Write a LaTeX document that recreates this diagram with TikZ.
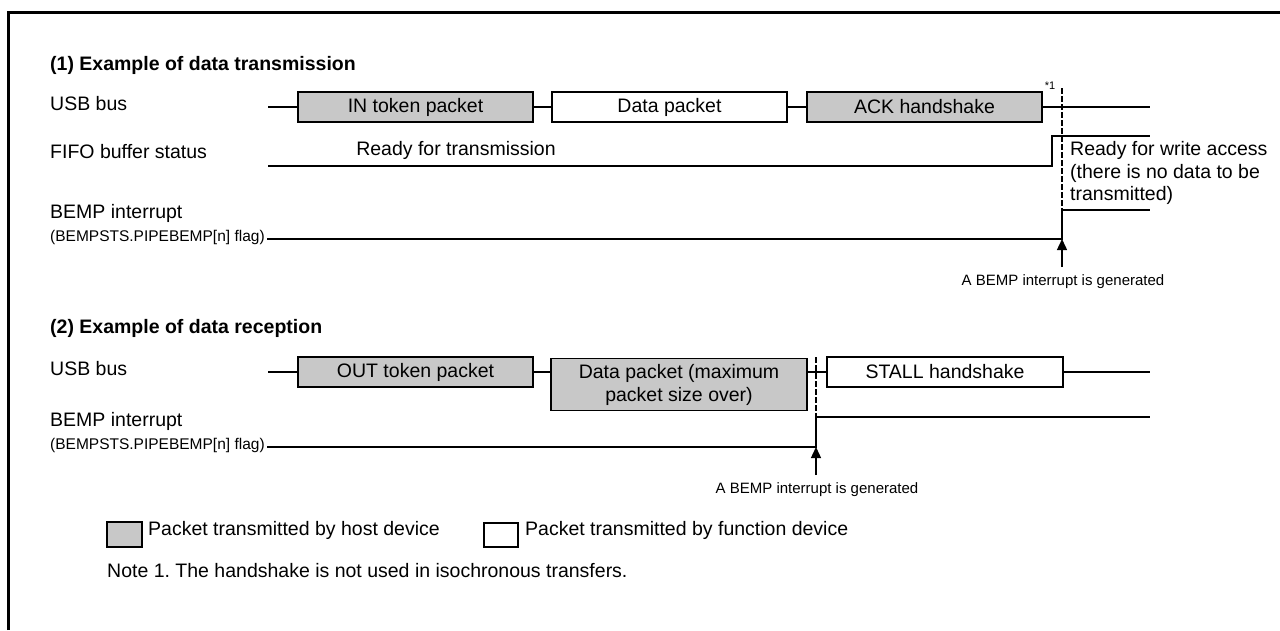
\documentclass[tikz,border=0pt]{standalone}
\usepackage{fontspec}
\setmainfont{Liberation Sans}
\usetikzlibrary{arrows.meta}
\definecolor{hostgray}{RGB}{200,200,200}
\frenchspacing
\begin{document}
\begin{tikzpicture}[x=1pt,y=-1pt,
  mainfont/.style={font=\fontsize{19.5}{22.5}\selectfont},
  lbl/.style={mainfont, anchor=mid west, inner sep=0pt},
  ttl/.style={font=\fontsize{19.5}{22.5}\selectfont\bfseries, anchor=mid west, inner sep=0pt},
  flagtxt/.style={anchor=mid west, inner sep=0pt, font=\fontsize{15.5}{17}\selectfont},
  pkt/.style={draw, line width=1.4pt, inner sep=0pt, mainfont, align=center},
  host/.style={pkt, fill=hostgray},
  func/.style={pkt, fill=white},
  sig/.style={line width=1.4pt},
  markline/.style={line width=2.4pt, dash pattern=on 5.5pt off 2.5pt},
  small/.style={font=\fontsize{15}{17}\selectfont, inner sep=0pt},
  evarrow/.style={line width=1.4pt, -{Triangle[length=11pt,width=10pt]}}
]
\useasboundingbox (0,0) rectangle (1280,630);
% frame
\draw[line width=3pt] (8.5,630) -- (8.5,12.5) -- (1280,12.5);

% ---------- (1) transmission ----------
\node[ttl] (t1) at (50,68) {(1) Example of data transmission};
\node[lbl] (usb1) at (50,108) {USB bus};
\node[lbl] (fifo) at (50,156) {FIFO buffer status};
\node[lbl] (bemp1) at (50,216) {BEMP interrupt};
\node[flagtxt] (flag1) at (50,239) {(BEMPSTS.PIPEBEMP[n] flag)};

\node[host, minimum width=235pt, minimum height=30pt] (in) at (415.5,107) {IN token packet};
\node[func, minimum width=235pt, minimum height=30pt] (d1) at (669.5,107) {Data packet};
\node[host, minimum width=235pt, minimum height=30pt] (ack) at (924.5,107) {ACK handshake};
\coordinate (u1s) at (268,107);
\coordinate (u1e) at (1150,107);
\draw[sig] (u1s) -- (in.west);
\draw[sig] (in.east) -- (d1.west);
\draw[sig] (d1.east) -- (ack.west);
\draw[sig] (ack.east) -- (u1e);
\node[font=\fontsize{11}{12}\selectfont, inner sep=0pt] (n1) at (1050,86) {*1};

\coordinate (f1s) at (268,166);
\coordinate (f1r) at (1052,166);
\coordinate (f1h) at (1052,136);
\coordinate (f1e) at (1150,136);
\draw[sig] (f1s) -- (f1r) -- (f1h) -- (f1e);
\node[mainfont, inner sep=0pt] (rt) at (456,150) {Ready for transmission};
\node[mainfont, anchor=west, inner sep=0pt, align=left] (rw) at (1070,173) {Ready for write access\\(there is no data to be\\transmitted)};

\coordinate (b1s) at (267,239);
\coordinate (b1r) at (1062,239);
\coordinate (b1h) at (1062,210);
\coordinate (b1e) at (1150,210);
\draw[sig] (b1s) -- (b1r) -- (b1h) -- (b1e);
\coordinate (m1t) at (1062,88);
\draw[markline] (m1t) -- (b1r);
\coordinate (a1s) at (1062,267);
\draw[evarrow] (a1s) -- (b1r);
\node[small] (g1) at (1063,282) {A BEMP interrupt is generated};

% ---------- (2) reception ----------
\node[ttl] (t2) at (50,331) {(2) Example of data reception};
\node[lbl] (usb2) at (50,373) {USB bus};
\node[lbl] (bemp2) at (50,424) {BEMP interrupt};
\node[flagtxt] (flag2) at (50,447) {(BEMPSTS.PIPEBEMP[n] flag)};

\node[host, minimum width=235pt, minimum height=30pt] (out) at (415.5,372) {OUT token packet};
\node[host, minimum width=256pt, minimum height=52pt, anchor=north] (d2) at (679,358) {Data packet (maximum\\packet size over)};
\node[func, minimum width=236pt, minimum height=30pt] (stall) at (945,372) {STALL handshake};
\coordinate (u2s) at (268,372);
\coordinate (u2e) at (1150,372);
\draw[sig] (u2s) -- (out.west);
\draw[sig] (out.east) -- (d2.west |- out.east);
\draw[sig] (d2.east |- out.east) -- (stall.west);
\draw[sig] (stall.east) -- (u2e);

\coordinate (b2s) at (267,447);
\coordinate (b2r) at (816,447);
\coordinate (b2h) at (816,417);
\coordinate (b2e) at (1150,417);
\draw[sig] (b2s) -- (b2r) -- (b2h) -- (b2e);
\coordinate (m2t) at (816,357);
\draw[markline] (m2t) -- (b2r);
\coordinate (a2s) at (816,475);
\draw[evarrow] (a2s) -- (b2r);
\node[small] (g2) at (817,490) {A BEMP interrupt is generated};

% ---------- legend ----------
\node[host, minimum width=35pt, minimum height=25pt] (lg1) at (124.5,534.5) {};
\node[lbl] (lt1) at (148,533) {Packet transmitted by host device};
\node[func, minimum width=34pt, minimum height=24pt] (lg2) at (501,535) {};
\node[lbl] (lt2) at (525,533) {Packet transmitted by function device};
\node[lbl] (note) at (107,575) {Note 1. The handshake is not used in isochronous transfers.};
\end{tikzpicture}
\end{document}
